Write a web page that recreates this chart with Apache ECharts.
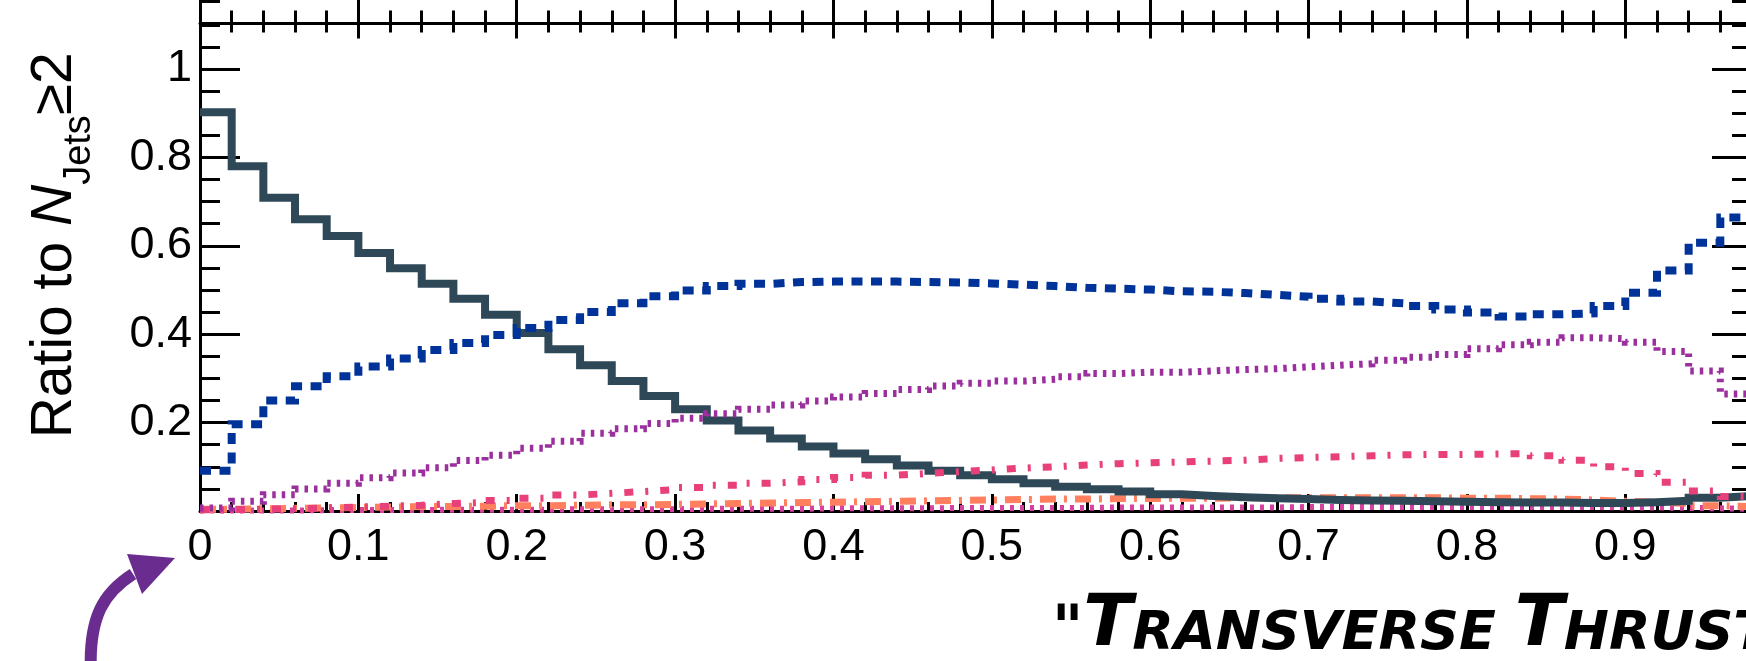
<!DOCTYPE html>
<html>
<head>
<meta charset="utf-8">
<script src="https://cdn.jsdelivr.net/npm/echarts@6/dist/echarts.min.js"></script>
<style>
  html, body { margin: 0; padding: 0; background: #fff; overflow: hidden; }
  /* the frame's right edge sits a few px past the window, as in the cropped original */
  #chart { width: 1752px; height: 661px; }
</style>
</head>
<body>
<div id="chart"></div>
<script>
// bin width of the transverse thrust histograms, bins start at 0
const binWidth = 0.02

// ratio to N_Jets>=2, one value per bin
const jets2 = [0.902, 0.780, 0.709, 0.660, 0.622, 0.584, 0.549, 0.514, 0.480, 0.444,
  0.403, 0.366, 0.330, 0.294, 0.260, 0.230, 0.205, 0.182, 0.164, 0.146,
  0.130, 0.117, 0.103, 0.091, 0.081, 0.072, 0.063, 0.055, 0.049, 0.044,
  0.038, 0.034, 0.031, 0.029, 0.027, 0.025, 0.024, 0.023, 0.022, 0.021,
  0.020, 0.019, 0.019, 0.018, 0.018, 0.020, 0.023, 0.030, 0.034]
const jets3 = [0.091, 0.196, 0.250, 0.282, 0.305, 0.327, 0.345, 0.364, 0.380, 0.398,
  0.414, 0.432, 0.450, 0.470, 0.486, 0.499, 0.509, 0.514, 0.518, 0.519,
  0.519, 0.519, 0.518, 0.517, 0.515, 0.512, 0.509, 0.505, 0.503, 0.501,
  0.497, 0.496, 0.493, 0.489, 0.485, 0.480, 0.474, 0.470, 0.464, 0.456,
  0.449, 0.440, 0.445, 0.447, 0.464, 0.494, 0.544, 0.607, 0.664]
const jets4 = [0.007, 0.022, 0.037, 0.050, 0.063, 0.075, 0.086, 0.098, 0.114, 0.126,
  0.142, 0.158, 0.176, 0.186, 0.198, 0.210, 0.220, 0.230, 0.240, 0.249,
  0.258, 0.266, 0.275, 0.283, 0.289, 0.294, 0.298, 0.304, 0.311, 0.314,
  0.314, 0.317, 0.320, 0.322, 0.326, 0.330, 0.333, 0.341, 0.348, 0.354,
  0.367, 0.376, 0.382, 0.392, 0.390, 0.382, 0.361, 0.317, 0.265]
const jets5 = [0.003, 0.004, 0.005, 0.007, 0.009, 0.011, 0.013, 0.017, 0.019, 0.024,
  0.029, 0.036, 0.040, 0.044, 0.048, 0.053, 0.058, 0.063, 0.066, 0.071,
  0.076, 0.081, 0.085, 0.089, 0.093, 0.097, 0.100, 0.104, 0.107, 0.109,
  0.111, 0.113, 0.115, 0.119, 0.121, 0.123, 0.125, 0.127, 0.128, 0.128,
  0.129, 0.130, 0.125, 0.115, 0.100, 0.085, 0.065, 0.045, 0.033]
const jets6 = [0.004, 0.005, 0.006, 0.007, 0.008, 0.009, 0.010, 0.010, 0.011, 0.012,
  0.012, 0.013, 0.014, 0.014, 0.015, 0.016, 0.017, 0.018, 0.019, 0.020,
  0.021, 0.022, 0.023, 0.024, 0.025, 0.026, 0.027, 0.027, 0.028, 0.028,
  0.029, 0.029, 0.030, 0.030, 0.030, 0.030, 0.030, 0.030, 0.030, 0.029,
  0.029, 0.028, 0.027, 0.025, 0.022, 0.020, 0.017, 0.012, 0.010]
const jets7 = [0.001, 0.001, 0.001, 0.002, 0.002, 0.002, 0.002, 0.003, 0.003, 0.003,
  0.003, 0.004, 0.004, 0.004, 0.004, 0.005, 0.005, 0.005, 0.005, 0.006,
  0.006, 0.006, 0.006, 0.007, 0.007, 0.007, 0.007, 0.007, 0.008, 0.008,
  0.008, 0.008, 0.008, 0.008, 0.009, 0.009, 0.009, 0.009, 0.009, 0.009,
  0.009, 0.009, 0.009, 0.009, 0.008, 0.008, 0.007, 0.006, 0.005]

const xMax = 0.98
const yMax = 1.103

const axisFont = 'Liberation Sans, Arial, Helvetica, sans-serif'
const black = '#000'
const tickStyle = { color: black, width: 3 }

// histogram -> step line points at the bin edges
function toSteps(vals) {
  const pts = vals.map((v, i) => [i * binWidth, v])
  pts.push([vals.length * binWidth, vals[vals.length - 1]])
  return pts
}

function hist(name, vals, color, width, dash) {
  return {
    name: name,
    type: 'line',
    step: 'end',
    showSymbol: false,
    silent: true,
    clip: false,
    lineStyle: { color: color, width: width, type: dash, cap: 'butt', join: 'miter' },
    data: toSteps(vals)
  }
}

// a bare axis used only for its ticks (ROOT style major / minor ticks)
function tickAxis(extra, showLine) {
  return Object.assign({
    type: 'value',
    axisLine: { show: !!showLine, onZero: false, lineStyle: tickStyle },
    axisLabel: { show: false },
    splitLine: { show: false }
  }, extra)
}

const chart = echarts.init(document.getElementById('chart'))

chart.setOption({
  animation: false,
  backgroundColor: '#fff',
  grid: [
    { left: 200, right: 0, top: 23.5, bottom: 150, containLabel: false },
    { left: 200, right: 0, top: 0, height: 23.5, containLabel: false }
  ],
  xAxis: [
    {
      type: 'value', gridIndex: 0, min: 0, max: xMax, interval: 0.1, position: 'bottom',
      axisLine: { onZero: false, lineStyle: tickStyle },
      axisTick: { inside: true, length: 17, lineStyle: tickStyle },
      axisLabel: { fontSize: 45, color: black, fontFamily: axisFont, margin: 14, showMaxLabel: false },
      splitLine: { show: false }
    },
    tickAxis({ gridIndex: 0, min: 0, max: xMax, interval: binWidth, position: 'bottom',
      axisTick: { inside: true, length: 9, lineStyle: tickStyle } }),
    tickAxis({ gridIndex: 0, min: 0, max: xMax, interval: 0.1, position: 'top',
      axisTick: { inside: true, length: 15, lineStyle: tickStyle } }, true),
    tickAxis({ gridIndex: 0, min: 0, max: xMax, interval: binWidth, position: 'top',
      axisTick: { inside: true, length: 9, lineStyle: tickStyle } }),
    tickAxis({ gridIndex: 1, min: 0, max: xMax, interval: 0.1, position: 'bottom',
      axisTick: { inside: true, length: 24, lineStyle: tickStyle } }),
    tickAxis({ gridIndex: 1, min: 0, max: xMax, interval: binWidth, position: 'bottom',
      axisTick: { inside: true, length: 13, lineStyle: tickStyle } })
  ],
  yAxis: [
    {
      type: 'value', gridIndex: 0, min: 0, max: yMax, interval: 0.2, position: 'left',
      name: '{a|Ratio to }{n|N}{s|Jets}{a|≥2}',
      nameLocation: 'middle',
      nameRotate: 90,
      nameGap: 116,
      nameTextStyle: {
        fontFamily: axisFont,
        color: black,
        padding: [0, 0, 0, 44],
        rich: {
          a: { fontSize: 57, fontFamily: axisFont, color: black, lineHeight: 62, verticalAlign: 'bottom' },
          n: { fontSize: 57, fontFamily: axisFont, color: black, fontStyle: 'italic', lineHeight: 62, verticalAlign: 'bottom' },
          s: { fontSize: 38, fontFamily: axisFont, color: black, lineHeight: 38, verticalAlign: 'bottom', padding: [0, 0, -15, 0] }
        }
      },
      axisLine: { onZero: false, lineStyle: tickStyle },
      axisTick: { inside: true, length: 40, lineStyle: tickStyle },
      axisLabel: {
        fontSize: 45, color: black, fontFamily: axisFont, margin: 8, showMaxLabel: false,
        formatter: v => (v === 0 ? '' : String(+v.toFixed(1)))
      },
      splitLine: { show: false }
    },
    tickAxis({ gridIndex: 0, min: 0, max: yMax, interval: 0.05, position: 'left',
      axisTick: { inside: true, length: 20, lineStyle: tickStyle } }),
    tickAxis({ gridIndex: 0, min: 0, max: yMax, interval: 0.2, position: 'right',
      axisTick: { inside: true, length: 40, lineStyle: tickStyle } }, true),
    tickAxis({ gridIndex: 0, min: 0, max: yMax, interval: 0.05, position: 'right',
      axisTick: { inside: true, length: 20, lineStyle: tickStyle } }),
    tickAxis({ gridIndex: 1, min: 1.1, max: 1.153, interval: 0.05, position: 'left',
      axisTick: { inside: true, length: 20, lineStyle: tickStyle } }, true),
    tickAxis({ gridIndex: 1, min: 1.1, max: 1.153, interval: 0.05, position: 'right',
      axisTick: { inside: true, length: 20, lineStyle: tickStyle } }, true)
  ],
  series: [
    hist('N_Jets = 7', jets7, '#d6409f', 6, [4, 6]),
    hist('N_Jets = 6', jets6, '#ff7f5e', 7, [16, 8, 3, 8]),
    hist('N_Jets = 2', jets2, '#2f4858', 8, 'solid'),
    hist('N_Jets = 5', jets5, '#e8407a', 7, [9, 12, 3, 12]),
    hist('N_Jets = 4', jets4, '#9b2f9e', 7, [3.5, 6]),
    hist('N_Jets = 3', jets3, '#003399', 8, [11, 8.5])
  ],
  graphic: [
    {
      type: 'bezierCurve',
      silent: true,
      shape: { x1: 91, y1: 675, x2: 133, y2: 574, cpx1: 88, cpy1: 615, cpx2: 105, cpy2: 592 },
      style: { stroke: '#6a2c8e', lineWidth: 12, fill: null }
    },
    {
      type: 'polygon',
      silent: true,
      shape: { points: [[175, 558], [127, 554], [142, 594]] },
      style: { fill: '#6a2c8e' }
    },
    {
      type: 'text',
      silent: true,
      left: 1052,
      top: 590,
      style: {
        text: '{q|"}{b|T}{c|RANSVERSE }{b|T}{c|HRUST}',
        rich: {
          q: { fontSize: 60, fontWeight: 'bold', fontStyle: 'italic', fontFamily: 'DejaVu Sans', fill: black, verticalAlign: 'bottom', lineHeight: 70 },
          b: { fontSize: 72, fontWeight: 'bold', fontStyle: 'italic', fontFamily: 'DejaVu Sans', fill: black, verticalAlign: 'bottom', lineHeight: 70 },
          c: { fontSize: 54, fontWeight: 'bold', fontStyle: 'italic', fontFamily: 'DejaVu Sans', fill: black, verticalAlign: 'bottom', lineHeight: 70 }
        }
      }
    }
  ]
})
</script>
</body>
</html>
